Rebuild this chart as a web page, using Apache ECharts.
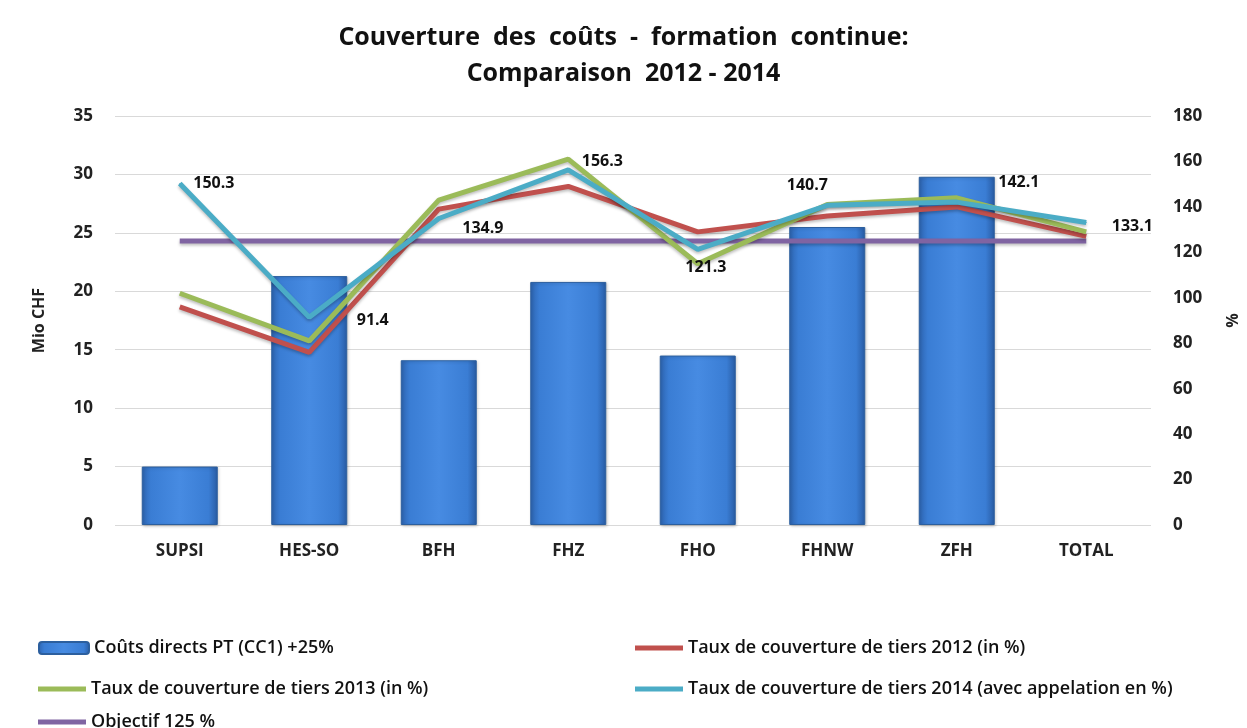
<!DOCTYPE html>
<html>
<head>
<meta charset="utf-8">
<script src="https://cdn.jsdelivr.net/npm/echarts@6/dist/echarts.min.js"></script>
<style>
    html, body { margin: 0; padding: 0; background: #ffffff; }
    #chart { width: 1247px; height: 728px; }
</style>
</head>
<body>
<div id="chart"></div>
<script>
    // donnees
    var categories = ['SUPSI', 'HES-SO', 'BFH', 'FHZ', 'FHO', 'FHNW', 'ZFH', 'TOTAL'];
    var couts = [5.0, 21.3, 14.1, 20.8, 14.5, 25.5, 29.8, null];
    var taux2012 = [96, 76, 139, 149, 129, 136, 140, 127];
    var taux2013 = [102, 81, 143, 161, 115, 141, 144, 129];
    var taux2014 = [150.3, 91.4, 134.9, 156.3, 121.3, 140.7, 142.1, 133.1];
    var objectif = [125, 125, 125, 125, 125, 125, 125, 125];
    var leftTicks = [0, 35, 5];
    var rightTicks = [0, 180, 20];

    var names = [
        'Coûts directs PT (CC1) +25%',
        'Taux de couverture de tiers 2012 (in %)',
        'Taux de couverture de tiers 2013 (in %)',
        'Taux de couverture de tiers 2014 (avec appelation en %)',
        'Objectif 125 %'
    ];

    // position des etiquettes 2014
    var labelOffsets = [[8, 0], [42, 3], [18, 10], [8, -8], [-18, 18], [-46, -20], [36, -20], [20, 4]];

    var font = '"Open Sans", Lato, sans-serif';
    var chart = echarts.init(document.getElementById('chart'));

    var lineStyleFor = function (color) {
        return {
            width: 5,
            color: color,
            shadowColor: 'rgba(0,0,0,0.25)',
            shadowBlur: 3,
            shadowOffsetY: 2
        };
    };

    var legendText = { fontFamily: font, fontSize: 18, fontWeight: 600, color: '#111' };
    var axisText = { fontFamily: font, fontSize: 17, fontWeight: 'bold', color: '#222' };

    var option = {
        backgroundColor: '#ffffff',
        title: {
            text: 'Couverture  des  coûts  -  formation  continue:\nComparaison  2012 - 2014',
            left: 'center',
            top: 15,
            textStyle: {
                fontFamily: font,
                fontSize: 25,
                fontWeight: 'bold',
                lineHeight: 36,
                color: '#111'
            }
        },
        legend: [
            { left: 33, top: 634, itemWidth: 50, itemHeight: 12, itemGap: 3, textStyle: legendText, data: [names[0]] },
            { left: 630, top: 634, itemWidth: 48, itemHeight: 5, itemGap: 3, textStyle: legendText, data: [{ name: names[1], icon: 'rect' }] },
            { left: 33, top: 675, itemWidth: 48, itemHeight: 5, itemGap: 3, textStyle: legendText, data: [{ name: names[2], icon: 'rect' }] },
            { left: 630, top: 675, itemWidth: 48, itemHeight: 5, itemGap: 3, textStyle: legendText, data: [{ name: names[3], icon: 'rect' }] },
            { left: 33, top: 708, itemWidth: 48, itemHeight: 5, itemGap: 3, textStyle: legendText, data: [{ name: names[4], icon: 'rect' }] }
        ],
        grid: { left: 115, right: 87, top: 116, bottom: 203 },
        xAxis: {
            type: 'category',
            data: categories,
            axisLine: { show: false },
            axisTick: { show: false },
            axisLabel: Object.assign({ margin: 18 }, axisText)
        },
        yAxis: [
            {
                type: 'value',
                min: leftTicks[0], max: leftTicks[1], interval: leftTicks[2],
                name: 'Mio CHF',
                nameLocation: 'middle',
                nameGap: 68,
                nameRotate: 90,
                nameTextStyle: Object.assign({}, axisText, { fontSize: 16 }),
                axisLine: { show: false },
                axisTick: { show: false },
                axisLabel: Object.assign({ margin: 22 }, axisText),
                splitLine: { lineStyle: { color: '#d9d9d9', width: 1 } }
            },
            {
                type: 'value',
                min: rightTicks[0], max: rightTicks[1], interval: rightTicks[2],
                name: '%',
                nameLocation: 'middle',
                nameGap: 72,
                nameRotate: -90,
                nameTextStyle: Object.assign({}, axisText, { fontSize: 16 }),
                axisLine: { show: false },
                axisTick: { show: false },
                axisLabel: Object.assign({ margin: 22 }, axisText),
                splitLine: { show: false }
            }
        ],
        series: [
            {
                name: names[0],
                type: 'bar',
                yAxisIndex: 0,
                barWidth: 76,
                data: couts,
                itemStyle: {
                    color: new echarts.graphic.LinearGradient(0, 0, 1, 0, [
                        { offset: 0, color: '#2d64b0' },
                        { offset: 0.12, color: '#3a7dd4' },
                        { offset: 0.5, color: '#478be2' },
                        { offset: 0.88, color: '#3a7dd4' },
                        { offset: 1, color: '#285ba3' }
                    ]),
                    borderColor: '#2c5f9e',
                    borderWidth: 1,
                    shadowColor: 'rgba(0,0,0,0.2)',
                    shadowBlur: 3,
                    shadowOffsetX: 1,
                    shadowOffsetY: 1
                }
            },
            {
                name: names[1],
                type: 'line',
                yAxisIndex: 1,
                data: taux2012,
                symbol: 'none',
                color: '#c0504d',
                lineStyle: lineStyleFor('#c0504d'),
                z: 3
            },
            {
                name: names[2],
                type: 'line',
                yAxisIndex: 1,
                data: taux2013,
                symbol: 'none',
                color: '#9bbb59',
                lineStyle: lineStyleFor('#9bbb59'),
                z: 4
            },
            {
                name: names[3],
                type: 'line',
                yAxisIndex: 1,
                symbol: 'circle',
                symbolSize: 1,
                showSymbol: true,
                color: '#4bacc6',
                lineStyle: lineStyleFor('#4bacc6'),
                z: 5,
                label: {
                    show: true,
                    position: 'right',
                    fontFamily: font,
                    fontSize: 16,
                    fontWeight: 'bold',
                    color: '#111',
                    formatter: function (p) { return p.value.toFixed(1); }
                },
                data: taux2014.map(function (v, i) {
                    return { value: v, label: { offset: labelOffsets[i] } };
                })
            },
            {
                name: names[4],
                type: 'line',
                yAxisIndex: 1,
                data: objectif,
                symbol: 'none',
                color: '#8064a2',
                lineStyle: lineStyleFor('#8064a2'),
                z: 2
            }
        ]
    };

    chart.setOption(option);
</script>
</body>
</html>
